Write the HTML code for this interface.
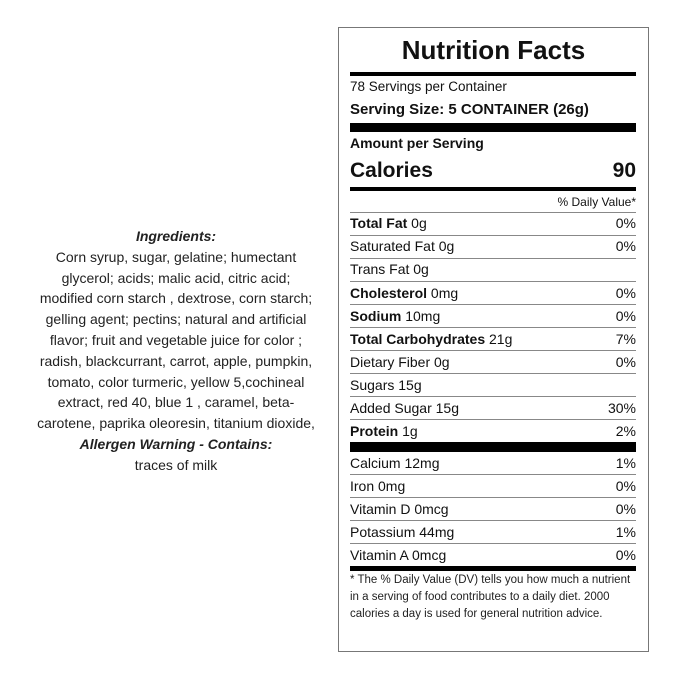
<!DOCTYPE html>
<html><head><meta charset="utf-8"><style>
body{margin:0;background:#fff;}
#c{position:relative;width:679px;height:679px;overflow:hidden;font-family:"Liberation Sans",Arial,sans-serif;color:#111;}
.a{position:absolute;white-space:nowrap;}
.ing{position:absolute;left:6px;width:340px;text-align:center;font-size:14px;line-height:20.8px;top:226px;color:#222;}
.ing b{font-style:italic;}
.box{position:absolute;left:338px;top:27px;width:311px;height:625px;border:1px solid #777;box-sizing:border-box;}
.r{position:absolute;left:350px;width:286px;height:20px;line-height:20px;font-size:14px;}
.r span{position:absolute;right:0;top:0;}
.hl{position:absolute;left:350px;width:286px;height:1px;background:#888;}
.bar{position:absolute;left:350px;width:286px;background:#000;}
</style></head><body><div id="c">
<div class="ing"><b>Ingredients:</b><br>Corn syrup, sugar, gelatine; humectant<br>glycerol; acids; malic acid, citric acid;<br>modified corn starch , dextrose, corn starch;<br>gelling agent; pectins; natural and artificial<br>flavor; fruit and vegetable juice for color ;<br>radish, blackcurrant, carrot, apple, pumpkin,<br>tomato, color turmeric, yellow 5,cochineal<br>extract, red 40, blue 1 , caramel, beta-<br>carotene, paprika oleoresin, titanium dioxide,<br><b>Allergen Warning - Contains:</b><br>traces of milk</div>
<div class="box"></div>
<div class="a" style="left:338px;width:311px;text-align:center;top:34px;font-size:26px;font-weight:bold;line-height:32px;">Nutrition Facts</div>
<div class="bar" style="top:72px;height:4px"></div>
<div class="r" style="top:77px;font-size:13.5px">78 Servings per Container</div>
<div class="r" style="top:100px;font-size:15px;font-weight:bold">Serving Size: 5 CONTAINER (26g)</div>
<div class="bar" style="top:123px;height:9px"></div>
<div class="r" style="top:133px;font-weight:bold">Amount per Serving</div>
<div class="r" style="top:158px;height:26px;line-height:26px;font-size:21px;font-weight:bold">Calories<span>90</span></div>
<div class="bar" style="top:187px;height:4px"></div>
<div class="r" style="top:192px;font-size:12px"><span>% Daily Value*</span></div>
<div class="hl" style="top:212px"></div>
<div class="r" style="top:213px"><b>Total Fat</b> 0g<span>0%</span></div>
<div class="hl" style="top:235px"></div>
<div class="r" style="top:236px">Saturated Fat 0g<span>0%</span></div>
<div class="hl" style="top:258px"></div>
<div class="r" style="top:259px">Trans Fat 0g</div>
<div class="hl" style="top:281px"></div>
<div class="r" style="top:283px"><b>Cholesterol</b> 0mg<span>0%</span></div>
<div class="hl" style="top:304px"></div>
<div class="r" style="top:306px"><b>Sodium</b> 10mg<span>0%</span></div>
<div class="hl" style="top:327px"></div>
<div class="r" style="top:329px"><b>Total Carbohydrates</b> 21g<span>7%</span></div>
<div class="hl" style="top:350px"></div>
<div class="r" style="top:352px">Dietary Fiber 0g<span>0%</span></div>
<div class="hl" style="top:373px"></div>
<div class="r" style="top:375px">Sugars 15g</div>
<div class="hl" style="top:396px"></div>
<div class="r" style="top:398px">Added Sugar 15g<span>30%</span></div>
<div class="hl" style="top:419px"></div>
<div class="r" style="top:421px"><b>Protein</b> 1g<span>2%</span></div>
<div class="bar" style="top:442px;height:10px"></div>
<div class="r" style="top:453px">Calcium 12mg<span>1%</span></div>
<div class="hl" style="top:474px"></div>
<div class="r" style="top:476px">Iron 0mg<span>0%</span></div>
<div class="hl" style="top:497px"></div>
<div class="r" style="top:499px">Vitamin D 0mcg<span>0%</span></div>
<div class="hl" style="top:520px"></div>
<div class="r" style="top:522px">Potassium 44mg<span>1%</span></div>
<div class="hl" style="top:543px"></div>
<div class="r" style="top:545px">Vitamin A 0mcg<span>0%</span></div>
<div class="bar" style="top:566px;height:5px"></div>
<div class="a" style="left:350px;top:572px;font-size:11.5px;line-height:17px;color:#222;">* The % Daily Value (DV) tells you how much a nutrient<br>in a serving of food contributes to a daily diet. 2000<br>calories a day is used for general nutrition advice.</div>
</div></body></html>
